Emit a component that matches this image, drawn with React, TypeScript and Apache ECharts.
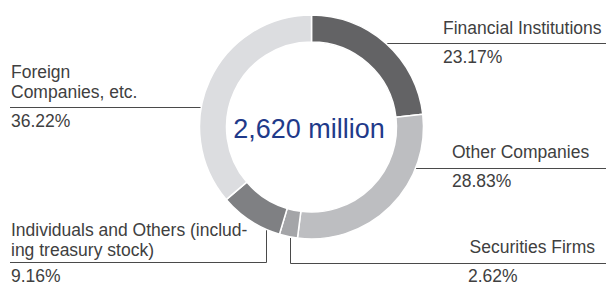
import React, { useEffect, useRef } from "react";
import * as echarts from "echarts";

const categories = [
  "Financial Institutions",
  "Other Companies",
  "Securities Firms",
  "Individuals and Others (including treasury stock)",
  "Foreign Companies, etc.",
];
const displayLabels = [
  ["Financial Institutions"],
  ["Other Companies"],
  ["Securities Firms"],
  ["Individuals and Others (includ-", "ing treasury stock)"],
  ["Foreign", "Companies, etc."],
];
const values = [23.17, 28.83, 2.62, 9.16, 36.22];
const colors = ["#636365", "#bdbec1", "#a4a5a8", "#7f8083", "#dcdde0"];
const totalLabel = "2,620 million";

export default function App() {
  const ref = useRef<HTMLDivElement>(null);
  useEffect(() => {
    document.body.style.margin = "0";
    const chart = echarts.init(ref.current!, null, { renderer: "svg" });
    const font = "17.5px 'Liberation Sans', Arial, sans-serif";
    const textColor = "#404040";
    const lineColor = "#4a4a4a";
    const pct = (v: number) => `${v.toFixed(2)}%`;
    const g: any[] = [];
    const addText = (text: string, x: number, y: number, align = "left") => {
      g.push({
        type: "text",
        x,
        y,
        silent: true,
        style: { text, font, fill: textColor, textAlign: align, textVerticalAlign: "middle" },
      });
    };
    const addLine = (points: number[][]) => {
      g.push({
        type: "polyline",
        silent: true,
        shape: { points },
        style: { stroke: lineColor, lineWidth: 1, fill: null },
      });
    };
    // Financial Institutions
    addText(displayLabels[0][0], 443, 28);
    addLine([[386, 43.5], [606, 43.5]]);
    addText(pct(values[0]), 443, 57);
    // Other Companies
    addText(displayLabels[1][0], 452, 152);
    addLine([[415, 168.5], [606, 168.5]]);
    addText(pct(values[1]), 452, 181);
    // Securities Firms
    addText(displayLabels[2][0], 595, 247, "right");
    addLine([[290.5, 238], [290.5, 263.5], [606, 263.5]]);
    addText(pct(values[2]), 468, 275.5);
    // Individuals
    addText(displayLabels[3][0], 11, 230);
    addText(displayLabels[3][1], 11, 250);
    addLine([[266.5, 227], [266.5, 262.5], [10, 262.5]]);
    addText(pct(values[3]), 11, 275.5);
    // Foreign
    addText(displayLabels[4][0], 11, 72);
    addText(displayLabels[4][1], 11, 92);
    addLine([[10, 107.5], [202, 107.5]]);
    addText(pct(values[4]), 11, 121);
    // center
    g.push({
      type: "text",
      x: 309,
      y: 129,
      silent: true,
      style: {
        text: totalLabel,
        font: "27px 'Liberation Sans', Arial, sans-serif",
        fill: "#1f3a8a",
        textAlign: "center",
        textVerticalAlign: "middle",
      },
    });

    chart.setOption({
      animation: false,
      backgroundColor: "#ffffff",
      series: [
        {
          type: "pie",
          center: [311.5, 127],
          radius: [85, 112],
          startAngle: 90,
          clockwise: true,
          label: { show: false },
          labelLine: { show: false },
          emphasis: { disabled: true },
          itemStyle: { borderColor: "#ffffff", borderWidth: 1.5 },
          data: categories.map((name, i) => ({
            name,
            value: values[i],
            itemStyle: { color: colors[i] },
          })),
        },
      ],
      graphic: g,
    });
    return () => chart.dispose();
  }, []);
  return <div ref={ref} style={{ width: 606, height: 282 }} />;
}
